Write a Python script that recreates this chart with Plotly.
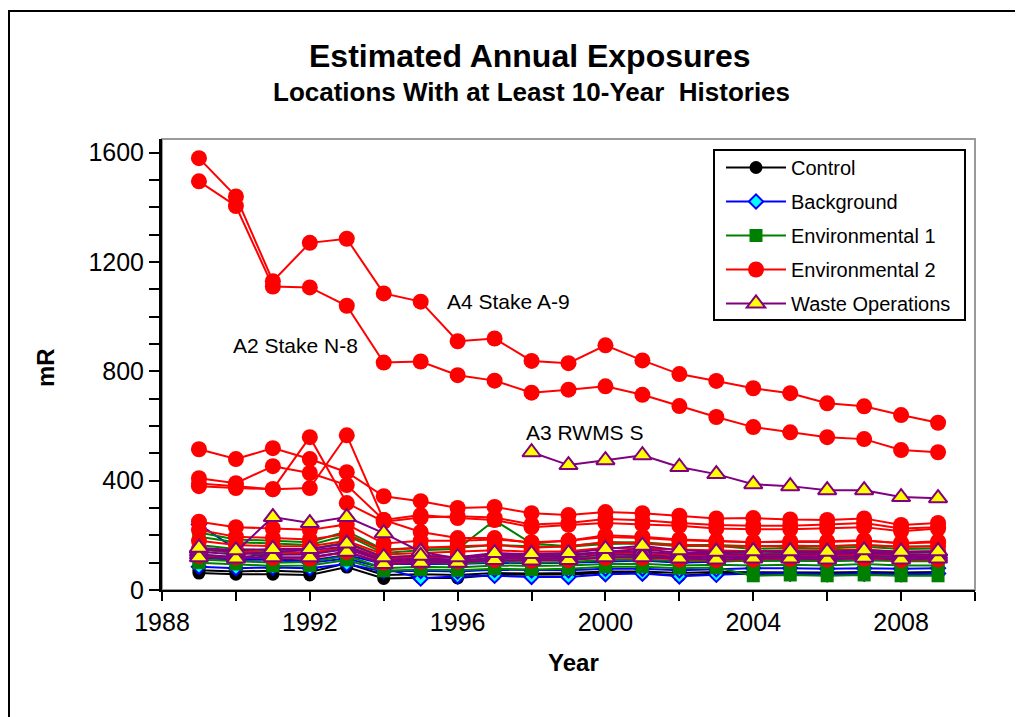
import plotly.graph_objects as go

years = list(range(1989, 2010))

# Control
ctrl_1 = [62, 58, 58, 55, 84, 42, 45, 44, 55, 55, 57, 62, 62, 52, 60, 58, 60, 58, 60, 58, 60]
ctrl_2 = [72, 68, 70, 66, 98, 55, 58, 55, 62, 60, 62, 68, 68, 62, 66, 65, 65, 64, 66, 64, 66]

# Background
bkg_1 = [240, 150, 110, 100, 115, 80, 42, 50, 52, 48, 48, 58, 60, 50, 56, 60, 60, 58, 60, 58, 60]
bkg_2 = [85, 80, 82, 80, 95, 68, 70, 68, 74, 72, 72, 78, 78, 72, 76, 80, 80, 78, 80, 78, 80]
bkg_3 = [118, 110, 112, 108, 128, 95, 95, 95, 100, 98, 100, 105, 108, 100, 105, 108, 108, 106, 110, 108, 106]

# Environmental 1
env1_1 = [100, 95, 88, 90, 110, 70, 75, 72, 78, 75, 78, 85, 85, 80, 82, 52, 55, 52, 55, 52, 52]
env1_2 = [112, 106, 100, 102, 125, 80, 85, 82, 90, 88, 90, 95, 96, 90, 92, 90, 92, 90, 95, 90, 90]
env1_3 = [130, 120, 115, 118, 140, 95, 100, 95, 105, 100, 102, 110, 112, 105, 108, 105, 108, 105, 110, 105, 105]
env1_4 = [148, 135, 130, 132, 155, 105, 112, 108, 118, 112, 115, 122, 125, 118, 120, 118, 120, 118, 122, 118, 118]
env1_5 = [165, 150, 145, 150, 175, 120, 125, 120, 130, 128, 130, 138, 140, 130, 135, 130, 135, 132, 138, 132, 130]
env1_6 = [195, 175, 170, 165, 200, 135, 145, 150, 255, 170, 160, 175, 175, 165, 165, 160, 162, 160, 165, 158, 160]
env1_7 = [210, 185, 180, 175, 215, 148, 155, 155, 165, 160, 158, 168, 170, 160, 162, 150, 155, 152, 158, 150, 152]

# Environmental 2
env2_a4 = [1580, 1440, 1130, 1270, 1285, 1085, 1055, 910, 920, 838, 830, 895, 840, 790, 765, 738, 720, 683, 672, 640, 612]
env2_a2 = [1495, 1405, 1110, 1107, 1040, 832, 836, 786, 766, 722, 733, 745, 714, 673, 633, 596, 577, 559, 552, 512, 504]
env2_c = [515, 479, 519, 479, 431, 343, 325, 300, 304, 281, 274, 285, 281, 272, 262, 263, 258, 256, 262, 238, 245]
env2_d = [409, 391, 453, 428, 384, 256, 274, 263, 256, 230, 238, 245, 240, 235, 225, 222, 222, 225, 230, 215, 225]
env2_e = [380, 373, 369, 373, 566, 256, 212, 190, 190, 172, 180, 194, 190, 182, 178, 175, 176, 176, 180, 172, 178]
env2_f = [390, 380, 369, 559, 318, 250, 265, 270, 265, 240, 245, 260, 255, 245, 238, 235, 235, 240, 245, 225, 230]
env2_g = [250, 230, 225, 220, 240, 170, 180, 180, 185, 175, 180, 200, 195, 185, 180, 175, 178, 178, 182, 170, 175]
env2_h = [220, 195, 190, 185, 205, 145, 155, 160, 165, 155, 160, 175, 170, 165, 160, 160, 162, 160, 165, 158, 160]
env2_i = [180, 165, 160, 160, 180, 130, 135, 140, 145, 140, 142, 155, 152, 148, 145, 142, 145, 145, 148, 140, 142]
env2_j = [150, 140, 138, 135, 160, 115, 120, 120, 125, 122, 125, 135, 132, 128, 125, 125, 128, 126, 130, 124, 126]
env2_k = [125, 120, 118, 115, 140, 100, 105, 105, 110, 108, 110, 118, 118, 112, 110, 112, 114, 112, 115, 110, 112]

# Waste Operations
waste_a3 = [None] * 9 + [504, 457, 475, 493, 450, 424, 387, 380, 365, 365, 340, 336]
waste_2 = [150, 140, 267, 245, 267, 208, 140, 115, 125, 120, 125, 140, 150, 135, 135, 140, 138, 135, 140, 135, 140]
waste_3 = [140, 130, 140, 145, 160, 110, 115, 112, 130, 125, 128, 140, 140, 132, 130, 130, 132, 130, 135, 128, 130]
waste_4 = [130, 120, 130, 130, 150, 105, 108, 105, 118, 115, 118, 130, 128, 122, 120, 122, 122, 120, 125, 120, 122]
waste_5 = [120, 115, 120, 120, 140, 95, 100, 100, 110, 108, 110, 120, 120, 115, 112, 115, 115, 112, 118, 112, 115]
waste_6 = [155, 145, 150, 150, 170, 120, 125, 120, 135, 132, 135, 150, 162, 145, 140, 142, 142, 140, 145, 140, 142]

groups = [
    ("Control", [ctrl_1, ctrl_2],
     dict(color="black", symbol="circle", size=13), "black"),
    ("Background", [bkg_1, bkg_2, bkg_3],
     dict(color="#00FFFF", symbol="diamond", size=11, line=dict(color="blue", width=2)), "blue"),
    ("Environmental 1", [env1_1, env1_2, env1_3, env1_4, env1_5, env1_6, env1_7],
     dict(color="#008000", symbol="square", size=13), "#008000"),
    ("Environmental 2", [env2_a4, env2_a2, env2_c, env2_d, env2_e, env2_f, env2_g, env2_h, env2_i, env2_j, env2_k],
     dict(color="#FF0000", symbol="circle", size=16), "#FF0000"),
    ("Waste Operations", [waste_a3, waste_2, waste_3, waste_4, waste_5, waste_6],
     dict(color="#FFFF00", symbol="triangle-up", size=16, line=dict(color="#800080", width=2)), "#800080"),
]

fig = go.Figure()
for name, series_list, marker, lcolor in groups:
    for i, ys in enumerate(series_list):
        fig.add_trace(go.Scatter(
            x=years, y=ys, mode="lines+markers", name=name,
            legendgroup=name, showlegend=(i == 0),
            line=dict(color=lcolor, width=2), marker=marker,
        ))

# page has an 8px body margin; plot area in screenshot pixels: x 162..975, y 139..590
OFF = 8
W, H = 1023 - OFF, 717 - OFF
L, R, T, B = 162, 975, 139, 590
def px(x):
    return (x - L) / (R - L)
def py(y):
    return (B - y) / (B - T)

font_family = "Liberation Sans, Arial, sans-serif"

annotations = [
    dict(text="<b>Estimated Annual Exposures</b>", x=px(530), y=py(56), font=dict(size=32)),
    dict(text="<b>Locations With at Least 10-Year  Histories</b>", x=px(531), y=py(92), font=dict(size=26)),
    dict(text="<b>mR</b>", x=px(45), y=py(368), textangle=-90, font=dict(size=24)),
    dict(text="<b>Year</b>", x=px(573), y=py(662), font=dict(size=24)),
    dict(text="A4 Stake A-9", x=px(508), y=py(301), font=dict(size=21)),
    dict(text="A2 Stake N-8", x=px(295), y=py(345), font=dict(size=21)),
    dict(text="A3 RWMS S", x=px(584), y=py(432), font=dict(size=21)),
]
for a in annotations:
    a.update(xref="paper", yref="paper", showarrow=False, xanchor="center", yanchor="middle")
    a["font"].update(color="black", family=font_family)

shapes = [
    dict(type="rect", xref="paper", yref="paper", x0=0, y0=0, x1=1, y1=1,
         line=dict(color="#9a9a9a", width=2), layer="below"),
    dict(type="rect", xref="paper", yref="paper", x0=px(9), y0=py(11), x1=px(1040), y1=py(740),
         line=dict(color="black", width=2)),
    # legend frame
    dict(type="rect", xref="paper", yref="paper", x0=px(714), y0=py(150), x1=px(965), y1=py(320),
         line=dict(color="black", width=2), fillcolor="white", layer="above"),
]

fig.update_layout(
    width=W, height=H,
    margin=dict(l=L - OFF, r=W - (R - OFF), t=T - OFF, b=H - (B - OFF)),
    paper_bgcolor="white", plot_bgcolor="white",
    font=dict(family=font_family, color="black"),
    annotations=annotations, shapes=shapes,
    legend=dict(x=px(721), y=py(148), xanchor="left", yanchor="top",
                borderwidth=0, bgcolor="rgba(0,0,0,0)",
                font=dict(size=20, color="black", family=font_family),
                itemwidth=60, tracegroupgap=5),
    xaxis=dict(range=[1988, 2010], tickmode="linear", tick0=1988, dtick=4,
               showgrid=False, zeroline=False, showline=True, linecolor="black", linewidth=2,
               ticks="outside", ticklen=9, tickwidth=2, tickcolor="black",
               minor=dict(dtick=2, tick0=1988, ticks="outside", ticklen=9, tickwidth=2, tickcolor="black"),
               tickfont=dict(size=25)),
    yaxis=dict(range=[0, 1650], tickmode="linear", tick0=0, dtick=400,
               showgrid=False, zeroline=False, showline=True, linecolor="black", linewidth=3,
               ticks="outside", ticklen=10, tickwidth=2, tickcolor="black",
               minor=dict(dtick=100, tick0=0, ticks="outside", ticklen=10, tickwidth=2, tickcolor="black"),
               tickfont=dict(size=25)),
)

fig.write_html("out.html")
